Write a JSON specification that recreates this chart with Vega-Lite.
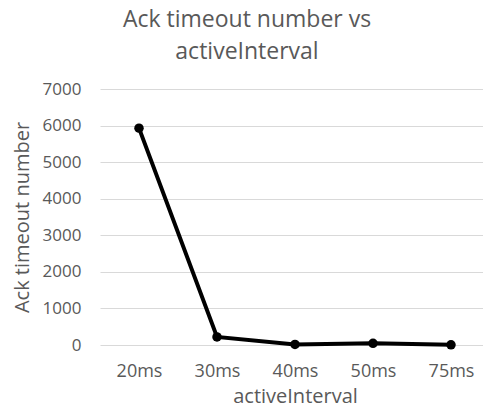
{
  "$schema": "https://vega.github.io/schema/vega-lite/v6.json",
  "autosize": "none",
  "width": 390,
  "height": 256,
  "padding": {"left": 100, "top": 89, "right": 0, "bottom": 72},
  "background": "white",
  "title": {
    "text": ["Ack timeout number vs", "activeInterval"],
    "font": "Open Sans",
    "fontSize": 23,
    "fontWeight": "normal",
    "color": "#595959",
    "anchor": "middle",
    "frame": "group",
    "dx": -48,
    "lineHeight": 32,
    "offset": 16
  },
  "data": {
    "values": [
      {"interval": "20ms", "count": 5930},
      {"interval": "30ms", "count": 220},
      {"interval": "40ms", "count": 15},
      {"interval": "50ms", "count": 45},
      {"interval": "75ms", "count": 5}
    ]
  },
  "mark": {
    "type": "line",
    "color": "black",
    "strokeWidth": 4,
    "point": {"filled": true, "color": "black", "size": 90}
  },
  "encoding": {
    "x": {
      "field": "interval",
      "type": "ordinal",
      "sort": null,
      "scale": {"type": "point", "padding": 0.5},
      "axis": {
        "title": "activeInterval",
        "labelAngle": 0,
        "domain": false,
        "ticks": false,
        "grid": false,
        "labelFont": "Open Sans",
        "labelFontSize": 18,
        "labelColor": "#595959",
        "labelPadding": 17,
        "titleFont": "Open Sans",
        "titleFontSize": 20,
        "titleFontWeight": "normal",
        "titleColor": "#595959",
        "titlePadding": 6
      }
    },
    "y": {
      "field": "count",
      "type": "quantitative",
      "scale": {"domain": [0, 7000], "nice": false},
      "axis": {
        "title": "Ack timeout number",
        "values": [0, 1000, 2000, 3000, 4000, 5000, 6000, 7000],
        "format": "d",
        "domain": false,
        "ticks": false,
        "grid": true,
        "gridColor": "#d9d9d9",
        "gridWidth": 1,
        "labelFont": "Open Sans",
        "labelFontSize": 17,
        "labelColor": "#595959",
        "labelPadding": 19,
        "titleFont": "Open Sans",
        "titleFontSize": 20,
        "titleFontWeight": "normal",
        "titleColor": "#595959",
        "titlePadding": 10
      }
    }
  },
  "config": {"view": {"stroke": null}}
}
